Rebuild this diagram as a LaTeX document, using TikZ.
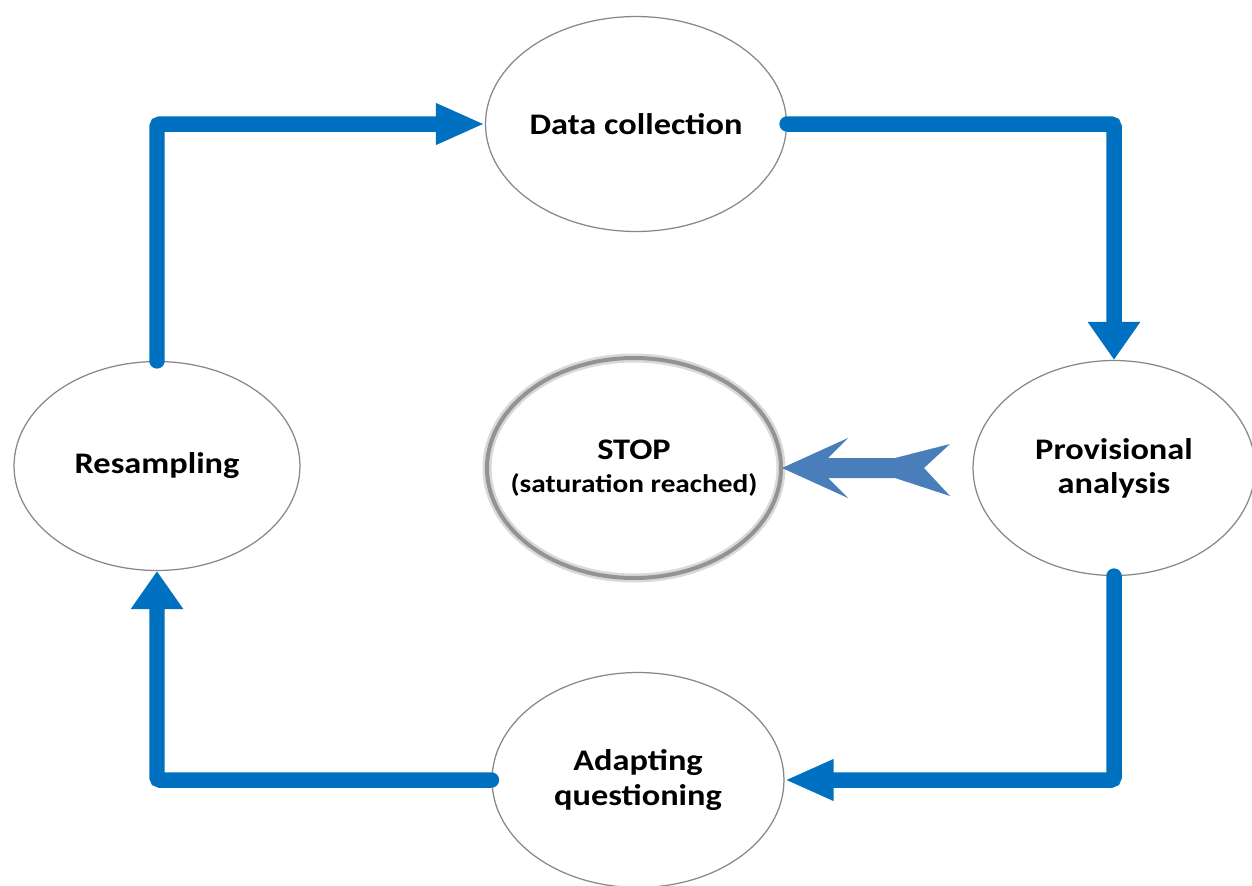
\documentclass[tikz,border=0pt]{standalone}
\usepackage{fontspec}
\setmainfont{Carlito}[FakeStretch=1.15]
\usetikzlibrary{shapes.geometric,arrows.meta}
\definecolor{flowblue}{RGB}{0,112,192}
\definecolor{stopblue}{RGB}{74,126,187}
\definecolor{ringgray}{RGB}{136,136,136}
\tikzset{
  stage/.style={ellipse,draw=ringgray,line width=0.025cm,fill=white,inner sep=0pt,
    minimum width=5.84cm,minimum height=4.3cm,align=center,
    font=\fontsize{17}{19.5}\selectfont\bfseries},
  flow/.style={draw=flowblue,line width=0.31cm,line cap=round,line join=miter,rounded corners=0.06cm},
  hhead/.style={-{Triangle[length=0.98cm,width=0.76cm]}},
  vhead/.style={-{Triangle[length=0.76cm,width=1.0cm]}},
}
\begin{document}
\begin{tikzpicture}[x=0.02cm,y=-0.02cm]
\useasboundingbox (0,0) rectangle (1252,886);
\clip (0,0) rectangle (1252,886);
\node[stage] (dc) at (636,124) {Data collection};
\node[stage,minimum width=5.64cm] (prov) at (1114,468) {Provisional\\analysis};
\node[stage,minimum width=5.72cm,minimum height=4.18cm] (res) at (157,466) {Resampling};
\node[stage] (aq) at (638,780) {Adapting\\questioning};
% STOP ring with soft edge
\draw[gray!30,line width=0.18cm] (634,468) ellipse [x radius=147,y radius=110];
\draw[gray!85,line width=0.08cm] (634,468) ellipse [x radius=147,y radius=110];
\node[align=center,inner sep=0pt] (stop) at (634,468)
  {\fontsize{17}{20}\selectfont\bfseries STOP\\[7pt]\fontsize{14.5}{20}\selectfont\bfseries (saturation reached)};
\coordinate (tip) at (782,468);
% cycle connectors
\draw[flow,hhead] (res.north) |- (dc.west);
\draw[flow,vhead] (dc.east) -| (prov.north);
\draw[flow,hhead] (prov.south) |- (aq.east);
\draw[flow,vhead] (aq.west) -| (res.south);
% fletched stop arrow
\fill[stopblue] (tip) -- (848,438) -- (828,458) -- (895,458) -- (950,444) -- (924,468)
  -- (950,496) -- (895,478) -- (828,478) -- (848,498) -- cycle;
\end{tikzpicture}
\end{document}
